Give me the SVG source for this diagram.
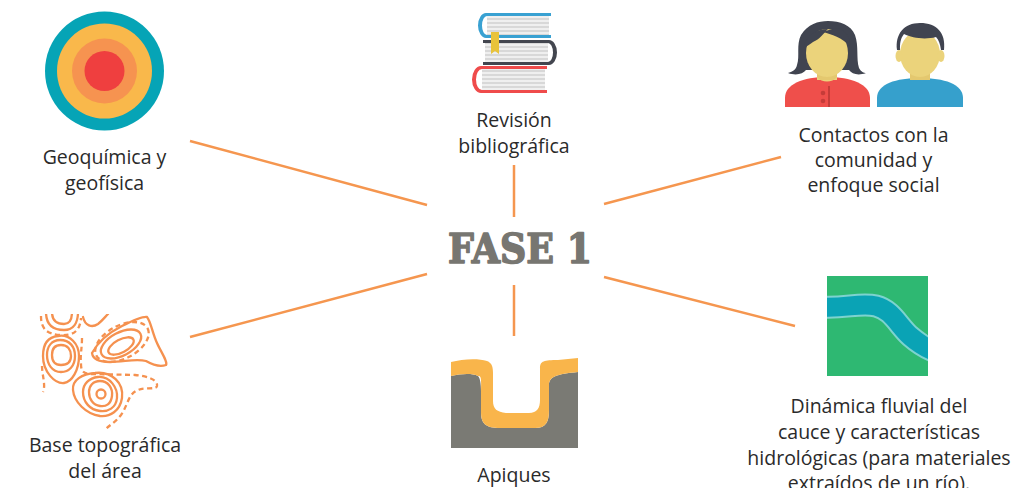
<svg xmlns="http://www.w3.org/2000/svg" width="1015" height="488" viewBox="0 0 1015 488">
  <style>
    .lbl { font-family: "Open Sans", "Noto Sans", "Liberation Sans", sans-serif; font-size: 19.5px; fill: #2a2a2a; text-anchor: middle; }
    .title { font-family: "DejaVu Serif", serif; font-weight: 700; font-size: 41px; fill: #777671; stroke: #777671; stroke-width: 1.6; stroke-linejoin: round; }
    .link { stroke: #f5964f; stroke-width: 2.5; fill: none; stroke-linecap: butt; }
    .topo { stroke: #f5914f; stroke-width: 2.3; fill: none; stroke-linecap: round; stroke-linejoin: round; }
    .dash { stroke-dasharray: 5 3.5; stroke-linecap: butt; }
  </style>
  <defs>
    <clipPath id="topoClip"><rect x="35" y="314" width="140" height="120"/></clipPath>
    <clipPath id="riverClip"><rect x="827" y="276" width="101" height="100"/></clipPath>
    <pattern id="pageLines" x="0" y="0" width="4" height="4" patternUnits="userSpaceOnUse">
      <rect width="4" height="4" fill="#efefef"/>
      <rect y="2.2" width="4" height="1.6" fill="#d3d3d3"/>
    </pattern>
  </defs>
  <rect width="1015" height="488" fill="#ffffff"/>

  <!-- connectors from the central label -->
  <g id="connectors">
    <line class="link" x1="190" y1="141" x2="427" y2="205"/>
    <line class="link" x1="514" y1="165" x2="514" y2="217"/>
    <line class="link" x1="604" y1="204" x2="781" y2="157"/>
    <line class="link" x1="190" y1="337" x2="427" y2="274"/>
    <line class="link" x1="514" y1="285" x2="514" y2="336"/>
    <line class="link" x1="604" y1="277" x2="795" y2="326"/>
  </g>

  <g id="fase1">
    <text class="title" x="448" y="263" textLength="144" lengthAdjust="spacingAndGlyphs">FASE 1</text>
  </g>

  <!-- target icon -->
  <g id="geoquimica">
    <circle cx="104.5" cy="71" r="59.5" fill="#06a4b6"/>
    <circle cx="104.5" cy="71" r="47.5" fill="#f9b84b"/>
    <circle cx="104.5" cy="71" r="32.5" fill="#f69350"/>
    <circle cx="104.5" cy="71" r="20" fill="#ef3f3f"/>
    <text class="lbl" x="104.5" y="164">Geoquímica y</text>
    <text class="lbl" x="104.5" y="190">geofísica</text>
  </g>

  <!-- stack of books -->
  <g id="revision">
    <!-- top book (blue, spine left) -->
    <path d="M551,13 L486,13 A8,12.5 0 0 0 486,38 L551,38 L551,35 L487,35 A5,9.5 0 0 1 487,16 L551,16 Z" fill="#39a1d2"/>
    <rect x="487" y="16" width="62" height="19" fill="url(#pageLines)"/>
    <!-- middle book (dark, spine right) -->
    <path d="M483,40 L549,40 A8,12.5 0 0 1 549,65 L483,65 L483,62 L548,62 A5,9.5 0 0 0 548,43 L483,43 Z" fill="#43464f"/>
    <rect x="485" y="43" width="63" height="19" fill="url(#pageLines)"/>
    <!-- bottom book (red, spine left) -->
    <path d="M547,66 L481,66 A9,13.5 0 0 0 481,93 L547,93 L547,90 L482,90 A6,10.5 0 0 1 482,69 L547,69 Z" fill="#ef4b4b"/>
    <rect x="482" y="69" width="63" height="21" fill="url(#pageLines)"/>
    <!-- bookmark -->
    <path d="M491,32 L499,32 L499,54 L495,51 L491,54 Z" fill="#e8c33b"/>
    <text class="lbl" x="514" y="127">Revisión</text>
    <text class="lbl" x="514" y="153">bibliográfica</text>
  </g>

  <!-- two people -->
  <g id="contactos">
    <!-- woman: hair behind the face, ends flipped out at the shoulders -->
    <path d="M801,35 C808,24 818,21 828,21 C840,21 851,25 855,35 C859,46 856,58 859,68 C861,72 864,73 866,73 C858,76 852,74 849,70 L806,70 C803,74 796,76 788,73 C792,72 796,70 797,65 C800,56 796,45 801,35 Z" fill="#404450"/>
    <path d="M785,107 L785,98 C785,84 803,77 827,77 C851,77 870,84 870,98 L870,107 Z" fill="#ef4f4b"/>
    <rect x="817" y="62" width="20" height="18" fill="#e4c86f"/>
    <path d="M817,77 C822,83 832,83 837,77 L837,80 L817,80 Z" fill="#ebd37b"/>
    <ellipse cx="827" cy="53" rx="21" ry="24" fill="#ebd37b"/>
    <path d="M803,48 C806,36 816,29 828,29 C823,34 820,39 813,42 C810,44 806,47 803,48 Z" fill="#404450"/>
    <path d="M822,32 C832,34 842,38 850,46 C851,38 846,30 836,28 Z" fill="#404450"/>
    <line x1="829" y1="86" x2="829" y2="107" stroke="#c63c39" stroke-width="2"/>
    <circle cx="823" cy="93" r="2.3" fill="#c63c39"/>
    <circle cx="823" cy="101" r="2.3" fill="#c63c39"/>
    <!-- man -->
    <path d="M877,107 L877,98 C877,84 896,78 920,78 C944,78 963,84 963,98 L963,107 Z" fill="#36a0cc"/>
    <rect x="910" y="62" width="20" height="18" fill="#e4c86f"/>
    <ellipse cx="920" cy="54" rx="20" ry="23" fill="#ebd37b"/>
    <ellipse cx="899" cy="56" rx="3.5" ry="6" fill="#ebd37b"/>
    <ellipse cx="941" cy="56" rx="3.5" ry="6" fill="#ebd37b"/>
    <path d="M897,50 C895,34 904,23 920,23 C937,23 946,33 944,50 L941,50 C940,44 939,40 936,37 C925,40 912,38 904,34 C900,39 900,44 900,50 Z" fill="#404450"/>
    <text class="lbl" x="873.5" y="142">Contactos con la</text>
    <text class="lbl" x="873.5" y="167">comunidad y</text>
    <text class="lbl" x="873.5" y="192">enfoque social</text>
  </g>

  <!-- contour map -->
  <g id="base-topografica">
    <g clip-path="url(#topoClip)">
      <path class="topo" d="M52,312 C52,322 58,324 64,324 C70,324 72,318 72,312"/>
      <path class="topo" d="M46,312 C46,326 54,330 64,330 C74,330 78,322 78,312"/>
      <path class="topo dash" d="M41,316 C41,330 48,334 60,335 C72,336 80,332 81,318"/>
      <path class="topo" d="M83,317 C85,326 92,328 98,324 C102,321 105,317 108,314"/>
      <path class="topo" d="M61,345 C68,345 71,350 71,356 C71,362 67,365 61,365 C55,365 52,361 52,355 C52,349 55,345 61,345 Z"/>
      <path class="topo" d="M60,340 C70,340 75,347 75,356 C75,366 69,372 61,372 C52,372 47,364 47,355 C47,346 52,340 60,340 Z"/>
      <path class="topo" d="M58,336 C70,334 79,344 79,356 C79,370 72,382 64,383 C55,384 43,372 43,356 C43,344 48,337 58,336 Z"/>
      <path class="topo dash" d="M42,366 C42,375 46,385 43,392"/>
      <path class="topo dash" d="M82,338 C82,348 80,356 81,364 C81,371 83,374 92,374 L135,375 C148,376 158,380 157,386 C156,390 145,387 138,390 C128,394 128,405 121,415 C115,423 109,425 105,430"/>
      <ellipse class="topo" cx="121" cy="346" rx="14" ry="6.5" transform="rotate(-28 121 346)"/>
      <ellipse class="topo" cx="121" cy="344" rx="22" ry="11.5" transform="rotate(-28 121 344)"/>
      <ellipse class="topo dash" cx="122" cy="342" rx="29" ry="16.5" transform="rotate(-28 122 342)"/>
      <path class="topo" d="M92,353 C98,342 110,332 122,326 C132,321 142,316 147,317 C151,322 152,332 157,343 C161,352 168,362 166,365 C160,367 153,365 146,361 C136,358 124,362 110,362 C100,362 93,360 92,353 Z"/>
      <circle class="topo" cx="101" cy="394" r="4.5"/>
      <path class="topo" d="M100,381 C108,381 113,388 112,396 C111,404 106,407 100,406 C93,405 89,399 89,392 C89,386 93,381 100,381 Z"/>
      <path class="topo" d="M98,377 C110,376 118,388 117,398 C116,408 108,412 100,411 C90,410 83,402 83,392 C83,384 89,378 98,377 Z"/>
      <path class="topo" d="M95,373 C112,371 124,383 122,398 C120,411 110,417 100,416 C86,414 74,402 73,390 C72,380 82,374 95,373 Z"/>
    </g>
    <text class="lbl" x="105" y="452">Base topográfica</text>
    <text class="lbl" x="105" y="478">del área</text>
  </g>

  <!-- soil pit -->
  <g id="apiques">
    <path d="M451,376 C460,374 472,373 478,376 C482,380 481,395 481,412 C481,424 486,428 500,428 L535,428 C546,428 549,422 549,410 L549,385 C549,377 556,374 578,372 L578,448 L451,448 Z" fill="#7a7a74"/>
    <path d="M451,362 C462,359 478,358 487,361 C492,363 493,367 493,373 L493,401 C493,409 497,412 506,413 L529,413 C537,413 540,408 540,400 L540,368 C540,361 544,360 558,360 L578,358 L578,372 C556,374 549,377 549,385 L549,410 C549,422 546,428 535,428 L500,428 C486,428 481,424 481,412 L481,395 C481,380 482,376 478,376 C472,373 460,374 451,376 Z" fill="#f9b54b"/>
    <text class="lbl" x="514" y="482">Apiques</text>
  </g>

  <!-- river -->
  <g id="dinamica">
    <rect x="827" y="276" width="101" height="100" fill="#2eb872"/>
    <g clip-path="url(#riverClip)">
      <path d="M820,307 C845,309 860,302 876,306 C892,310 898,325 910,336 C918,343 925,348 938,353" fill="none" stroke="#7dd3cf" stroke-width="23"/>
      <path d="M820,307 C845,309 860,302 876,306 C892,310 898,325 910,336 C918,343 925,348 938,353" fill="none" stroke="#0aa3b5" stroke-width="19"/>
    </g>
    <text class="lbl" x="879" y="413">Dinámica fluvial del</text>
    <text class="lbl" x="879" y="439">cauce y características</text>
    <text class="lbl" x="879" y="465">hidrológicas (para materiales</text>
    <text class="lbl" x="879" y="490">extraídos de un río).</text>
  </g>
</svg>
